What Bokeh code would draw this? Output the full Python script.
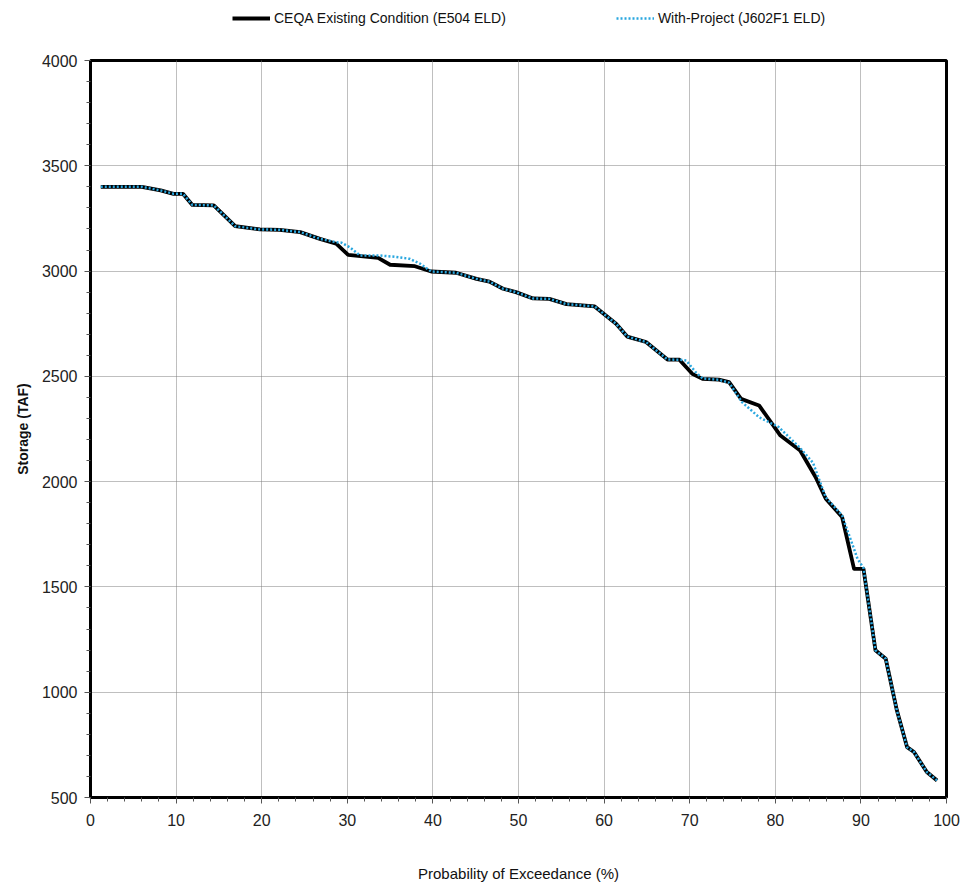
from bokeh.plotting import figure
from bokeh.layouts import column
from bokeh.models import Legend, LegendItem, FixedTicker, Range1d
from bokeh.embed import file_html
from bokeh.resources import INLINE

# Storage exceedance curves (probability of exceedance %, storage TAF)
existing_pct = [1.2, 6.0, 8.2, 9.7, 10.8, 11.9, 14.4, 16.9, 19.8, 22.1, 24.5,
                26.8, 28.7, 30.1, 33.6, 35.0, 37.9, 39.8, 42.7, 45.1, 46.6,
                48.2, 49.7, 51.7, 53.6, 55.6, 58.9, 60.2, 61.4, 62.7, 64.9,
                67.4, 68.8, 70.3, 71.5, 73.4, 74.6, 76.0, 78.1, 80.6, 82.9,
                84.7, 85.9, 87.8, 89.2, 90.3, 91.7, 92.9, 94.2, 95.4, 96.2,
                97.7, 98.9]
existing_taf = [3400, 3400, 3383, 3367, 3367, 3314, 3312, 3213, 3198, 3196,
                3185, 3153, 3130, 3077, 3063, 3030, 3023, 2998, 2992, 2963,
                2950, 2916, 2900, 2870, 2868, 2843, 2832, 2789, 2750, 2689,
                2663, 2580, 2579, 2512, 2488, 2484, 2473, 2393, 2362, 2219,
                2148, 2022, 1919, 1832, 1586, 1586, 1199, 1159, 914, 739, 716,
                621, 581]

project_pct = [1.2, 6.0, 8.2, 9.7, 10.8, 11.9, 14.4, 16.9, 19.8, 22.1, 24.5,
               26.8, 28.7, 29.3, 30.3, 31.5, 33.8, 35.5, 37.3, 38.5, 39.8,
               42.7, 45.1, 46.6, 48.2, 49.7, 51.7, 53.6, 55.6, 58.9, 60.2,
               61.4, 62.7, 64.9, 67.4, 68.8, 69.6, 70.7, 71.5, 73.4, 74.6,
               76.1, 78.1, 80.4, 82.9, 84.4, 85.9, 87.8, 89.6, 90.3, 91.7,
               92.9, 94.2, 95.4, 96.2, 97.7, 98.9]
project_taf = [3400, 3400, 3383, 3367, 3367, 3314, 3312, 3213, 3198, 3196,
               3185, 3153, 3137, 3135, 3113, 3074, 3074, 3068, 3058, 3035,
               2998, 2992, 2963, 2950, 2916, 2900, 2870, 2868, 2843, 2832,
               2789, 2750, 2689, 2663, 2580, 2579, 2575, 2520, 2490, 2484,
               2470, 2378, 2306, 2259, 2160, 2090, 1925, 1840, 1634, 1590,
               1199, 1159, 914, 739, 716, 621, 581]

series_labels = ["CEQA Existing Condition (E504 ELD)", "With-Project (J602F1 ELD)"]

x_ticks = [0, 10, 20, 30, 40, 50, 60, 70, 80, 90, 100]
y_ticks = [500, 1000, 1500, 2000, 2500, 3000, 3500, 4000]

FONT = "'Liberation Sans', Arial, sans-serif"
EXIST_STYLE = dict(line_color="black", line_width=3.8, line_join="round")
PROJ_STYLE = dict(line_color="#2aa7df", line_width=2.5, line_dash="2 2")

# ---- main chart -----------------------------------------------------------
p = figure(width=960, height=839, output_backend="svg", toolbar_location=None,
           x_range=Range1d(0, 100), y_range=Range1d(500, 4000),
           min_border_left=90, min_border_right=14, min_border_top=12,
           min_border_bottom=90)
p.background_fill_color = "white"
p.border_fill_color = "white"
p.outline_line_color = "black"
p.outline_line_width = 3

for g in (p.xgrid, p.ygrid):
    g.grid_line_color = "#7f7f7f"
    g.grid_line_dash = "1 1"
    g.grid_line_width = 1
p.xgrid.ticker = FixedTicker(ticks=x_ticks)
p.ygrid.ticker = FixedTicker(ticks=y_ticks)

p.xaxis.ticker = FixedTicker(ticks=x_ticks,
                             minor_ticks=list(range(0, 101, 2)))
p.yaxis.ticker = FixedTicker(ticks=y_ticks,
                             minor_ticks=list(range(500, 4001, 100)))
for ax in (p.xaxis[0], p.yaxis[0]):
    ax.axis_line_color = "black"
    ax.axis_line_width = 3
    ax.major_tick_line_color = "#555555"
    ax.minor_tick_line_color = "#555555"
    ax.major_tick_in = 0
    ax.major_tick_out = 6
    ax.minor_tick_in = 0
    ax.minor_tick_out = 4
    ax.major_label_text_font = FONT
    ax.major_label_text_font_size = "16px"
    ax.major_label_text_color = "#222222"
    ax.axis_label_text_color = "#111111"

p.xaxis.major_label_standoff = 10
p.yaxis.major_label_standoff = 7
p.xaxis.axis_label = "Probability of Exceedance (%)"
p.xaxis.axis_label_text_font = FONT
p.xaxis.axis_label_text_font_size = "15px"
p.xaxis.axis_label_text_font_style = "normal"
p.xaxis.axis_label_standoff = 36
p.yaxis.axis_label = "Storage (TAF)"
p.yaxis.axis_label_text_font = FONT
p.yaxis.axis_label_text_font_size = "14px"
p.yaxis.axis_label_text_font_style = "bold"
p.yaxis.axis_label_standoff = 8

p.line(existing_pct, existing_taf, **EXIST_STYLE)
p.line(project_pct, project_taf, **PROJ_STYLE)

# ---- legend strip above the chart -----------------------------------------
leg = figure(width=960, height=48, output_backend="svg", toolbar_location=None,
             x_range=Range1d(0, 100), y_range=Range1d(0, 1),
             min_border_left=90, min_border_right=14, min_border_top=0,
             min_border_bottom=0)
leg.axis.visible = False
leg.grid.visible = False
leg.outline_line_color = None
leg.border_fill_color = "white"
leg.background_fill_color = "white"

# proxy renderers (no visible data) that carry the series styles
nan = float("nan")
k_exist = leg.line(x=[nan], y=[nan], **EXIST_STYLE)
k_proj = leg.line(x=[nan], y=[nan], **PROJ_STYLE)

legend = Legend(items=[
    LegendItem(label=series_labels[0], renderers=[k_exist]),
    LegendItem(label=series_labels[1], renderers=[k_proj]),
], orientation="horizontal", location=(142, 20))
legend.border_line_color = None
legend.background_fill_alpha = 0
legend.glyph_width = 38
legend.glyph_height = 20
legend.label_height = 20
legend.label_standoff = 4
legend.spacing = 110
legend.padding = 0
legend.margin = 0
legend.label_text_font = FONT
legend.label_text_font_size = "14px"
legend.label_text_color = "#111111"
leg.add_layout(legend)

layout = column(leg, p, spacing=0)

open("out.html", "w").write(file_html(layout, INLINE))
